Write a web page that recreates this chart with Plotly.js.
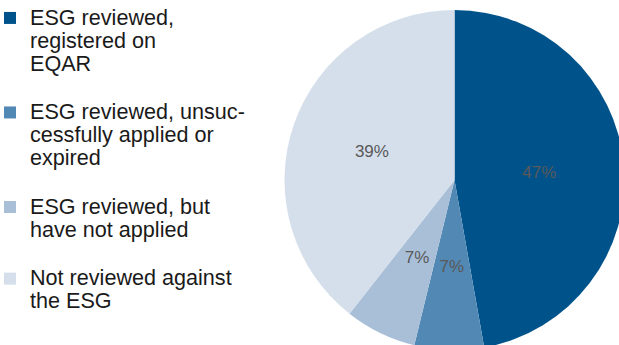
<!DOCTYPE html>
<html>
<head>
<meta charset="utf-8">
<script src="https://cdn.plot.ly/plotly-3.0.1.min.js"></script>
<style>
html,body{margin:0;padding:0;overflow:hidden;background:#fff;}
#chart{width:640px;height:360px;}
</style>
</head>
<body>
<div id="chart"></div>
<script>
// Category names (line breaks as in the reference legend)
var categories = [
  "ESG reviewed,<br>registered on<br>EQAR",
  "ESG reviewed, unsuc-<br>cessfully applied or<br>expired",
  "ESG reviewed, but<br>have not applied",
  "Not reviewed against<br>the ESG"
];
var shares = [47.2, 6.6, 6.8, 39.4];
var colors = ["#00538A", "#5288B4", "#A9BFD8", "#D5DFEB"];

var W = 640, H = 360, CX = 454.5, CY = 180, R = 170, R2 = 104;

// Legend labels: larger glyphs inside a tighter line pitch, blank line between entries
var legendLabels = categories.map(function (c, i) {
  var lines = c.split("<br>").map(function (l) {
    return '<span style="font-size:21.6px">' + l + '</span>';
  });
  if (i < categories.length - 1) lines.push(" ");
  return lines.join("<br>");
});

var big = shares.map(function (v) { return v > 20; });

var mainPie = {
  type: "pie",
  labels: legendLabels,
  values: shares,
  sort: false,
  direction: "clockwise",
  rotation: 0,
  marker: {colors: colors, line: {width: 0}},
  textposition: "inside",
  insidetextorientation: "horizontal",
  texttemplate: big.map(function (b) { return b ? "%{percent:.0%}" : ""; }),
  textfont: {family: "Liberation Sans, Arial, sans-serif", size: 17, color: "#595959"},
  hoverinfo: "label+percent",
  domain: {x: [(CX - R) / W, (CX + R) / W], y: [(H - CY - R) / H, (H - CY + R) / H]}
};

// Transparent inner pie carrying the labels of the thin slices closer to the centre
var labelPie = {
  type: "pie",
  labels: legendLabels,
  values: shares,
  sort: false,
  direction: "clockwise",
  rotation: 0,
  showlegend: false,
  marker: {colors: shares.map(function () { return "rgba(0,0,0,0)"; }), line: {width: 0}},
  textposition: "inside",
  insidetextorientation: "horizontal",
  texttemplate: big.map(function (b) { return b ? "" : "%{percent:.0%}"; }),
  textfont: {family: "Liberation Sans, Arial, sans-serif", size: 17, color: "#595959"},
  hoverinfo: "skip",
  domain: {x: [(CX - R2) / W, (CX + R2) / W], y: [(H - CY - R2) / H, (H - CY + R2) / H]}
};

var layout = {
  width: W,
  height: H,
  margin: {l: 0, r: 0, t: 0, b: 0, autoexpand: false},
  paper_bgcolor: "#ffffff",
  showlegend: true,
  uniformtext: {minsize: 17, mode: "show"},
  legend: {
    x: -10 / W, y: 1, xanchor: "left", yanchor: "top",
    valign: "top",
    font: {family: "Liberation Sans, Arial, sans-serif", size: 17.6, color: "#1a1a1a"},
    bgcolor: "rgba(0,0,0,0)"
  }
};

Plotly.newPlot("chart", [mainPie, labelPie], layout, {displayModeBar: false, staticPlot: true});
</script>
</body>
</html>
